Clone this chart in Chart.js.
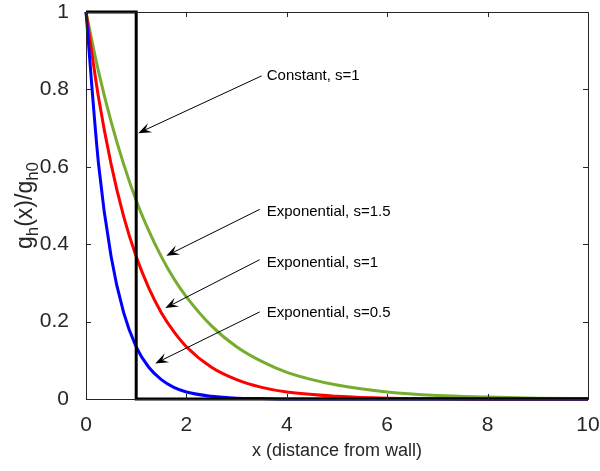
<!DOCTYPE html>
<html>
<head>
<meta charset="utf-8">
<script src="https://cdn.jsdelivr.net/npm/chart.js@4.4.1/dist/chart.umd.min.js"></script>
<style>
  html, body { margin: 0; padding: 0; background: #fff; }
  #wrap { width: 600px; height: 471px; position: relative; }
</style>
</head>
<body>
<div id="wrap"><canvas id="chartDinding"></canvas></div>
<script>
// sample positions along x (distance from wall)
const xVals = [0, 0.25, 0.5, 0.75, 1, 1.25, 1.5, 1.75, 2, 2.5, 3, 3.5, 4, 5, 6, 7, 8, 9, 10];
// values
const expS05 = [1, 0.607, 0.368, 0.223, 0.135, 0.082, 0.05, 0.03, 0.018, 0.007, 0.002, 0.001, 0, 0, 0, 0, 0, 0, 0];
const expS1 = [1, 0.779, 0.607, 0.472, 0.368, 0.287, 0.223, 0.174, 0.135, 0.082, 0.05, 0.03, 0.018, 0.007, 0.002, 0.001, 0, 0, 0];
const expS15 = [1, 0.846, 0.717, 0.607, 0.513, 0.435, 0.368, 0.311, 0.264, 0.189, 0.135, 0.097, 0.069, 0.036, 0.018, 0.009, 0.005, 0.002, 0.001];
// constant profile (step)
const constX = [0, 1, 1, 10];
const constY = [1, 1, 0, 0];

const xTicks = [0, 2, 4, 6, 8, 10];
const yTicks = [0, 0.2, 0.4, 0.6, 0.8, 1];

// annotation arrows (data coords)
const noteText = ['Constant, s=1', 'Exponential, s=1.5', 'Exponential, s=1', 'Exponential, s=0.5'];
const noteTail = [[3.5, 0.835], [3.46, 0.49], [3.46, 0.36], [3.46, 0.225]];
const noteTip = [[1.04, 0.687], [1.6, 0.37], [1.58, 0.235], [1.38, 0.092]];
const noteTextPos = [[3.6, 0.836], [3.6, 0.483], [3.6, 0.352], [3.6, 0.222]];

function toPts(xs, ys) {
    return xs.map((x, i) => ({ x: x, y: ys[i] }));
}

const boxPlugin = {
    id: 'boxPlugin',
    afterDatasetsDraw(chart) {
        const ctx = chart.ctx;
        const a = chart.chartArea;
        const xs = chart.scales.x, ys = chart.scales.y;
        ctx.save();
        ctx.strokeStyle = '#262626';
        ctx.lineWidth = 1;
        ctx.strokeRect(a.left + 0.5, a.top + 0.5, a.right - a.left, a.bottom - a.top);
        ctx.beginPath();
        xTicks.forEach(v => {
            const px = Math.round(xs.getPixelForValue(v)) + 0.5;
            ctx.moveTo(px, a.bottom); ctx.lineTo(px, a.bottom - 5);
            ctx.moveTo(px, a.top); ctx.lineTo(px, a.top + 5);
        });
        yTicks.forEach(v => {
            const py = Math.round(ys.getPixelForValue(v)) + 0.5;
            ctx.moveTo(a.left, py); ctx.lineTo(a.left + 5, py);
            ctx.moveTo(a.right, py); ctx.lineTo(a.right - 5, py);
        });
        ctx.stroke();

        // arrows + notes
        ctx.fillStyle = '#000';
        ctx.strokeStyle = '#000';
        ctx.font = '15px "Liberation Sans", Arial, sans-serif';
        ctx.textBaseline = 'middle';
        noteText.forEach((t, i) => {
            const x0 = xs.getPixelForValue(noteTail[i][0]), y0 = ys.getPixelForValue(noteTail[i][1]);
            const x1 = xs.getPixelForValue(noteTip[i][0]), y1 = ys.getPixelForValue(noteTip[i][1]);
            const ang = Math.atan2(y1 - y0, x1 - x0);
            ctx.beginPath();
            ctx.lineWidth = 1;
            ctx.moveTo(x0, y0);
            ctx.lineTo(x1 - 8 * Math.cos(ang), y1 - 8 * Math.sin(ang));
            ctx.stroke();
            // arrow head
            const L = 13, W = 5;
            const bx = x1 - L * Math.cos(ang), by = y1 - L * Math.sin(ang);
            const cx = x1 - 0.6 * L * Math.cos(ang), cy = y1 - 0.6 * L * Math.sin(ang);
            ctx.beginPath();
            ctx.moveTo(x1, y1);
            ctx.lineTo(bx + W * Math.sin(ang), by - W * Math.cos(ang));
            ctx.lineTo(cx, cy);
            ctx.lineTo(bx - W * Math.sin(ang), by + W * Math.cos(ang));
            ctx.closePath();
            ctx.fill();
            ctx.fillText(t, xs.getPixelForValue(noteTextPos[i][0]), ys.getPixelForValue(noteTextPos[i][1]));
        });

        // y axis title with subscripts
        ctx.save();
        ctx.translate(26, (a.top + a.bottom) / 2);
        ctx.rotate(-Math.PI / 2);
        ctx.fillStyle = '#262626';
        ctx.textBaseline = 'alphabetic';
        const parts = [['g', 0], ['h', 1], ['(x)/g', 0], ['h0', 1]];
        const big = '23px "Liberation Sans", Arial, sans-serif';
        const small = '17px "Liberation Sans", Arial, sans-serif';
        let w = 0;
        parts.forEach(p => { ctx.font = p[1] ? small : big; w += ctx.measureText(p[0]).width; });
        let px = -w / 2;
        parts.forEach(p => {
            ctx.font = p[1] ? small : big;
            ctx.fillText(p[0], px, p[1] ? 12 : 6);
            px += ctx.measureText(p[0]).width;
        });
        ctx.restore();
        ctx.restore();
    }
};

function createChart() {
    const ctx = document.getElementById('chartDinding').getContext('2d');
    const lineBase = { showLine: true, pointRadius: 0, borderWidth: 3, fill: false };
    new Chart(ctx, {
        type: 'scatter',
        data: {
            datasets: [
                Object.assign({ label: 'Constant, s=1', data: toPts(constX, constY), borderColor: '#000000', tension: 0 }, lineBase),
                Object.assign({ label: 'Exponential, s=0.5', data: toPts(xVals, expS05), borderColor: '#0000ff', cubicInterpolationMode: 'monotone' }, lineBase),
                Object.assign({ label: 'Exponential, s=1', data: toPts(xVals, expS1), borderColor: '#ff0000', cubicInterpolationMode: 'monotone' }, lineBase),
                Object.assign({ label: 'Exponential, s=1.5', data: toPts(xVals, expS15), borderColor: '#77ac30', cubicInterpolationMode: 'monotone' }, lineBase)
            ]
        },
        options: {
            responsive: true,
            maintainAspectRatio: false,
            animation: false,
            clip: false,
            layout: { padding: { left: 0, right: 12, top: 12, bottom: 0 } },
            plugins: { legend: { display: false }, tooltip: { enabled: false } },
            scales: {
                x: {
                    type: 'linear', min: 0, max: 10,
                    grid: { display: false }, border: { display: false },
                    afterBuildTicks: s => { s.ticks = xTicks.map(v => ({ value: v })); },
                    ticks: { color: '#262626', font: { family: '"Liberation Sans", Arial', size: 21 }, padding: 6, maxRotation: 0 },
                    title: { display: true, text: 'x (distance from wall)', color: '#262626', font: { family: '"Liberation Sans", Arial', size: 18 }, padding: { top: 0, bottom: 9 } },
                    afterFit: s => { s.height = 72; s.paddingLeft = 0; s.paddingRight = 0; }
                },
                y: {
                    type: 'linear', min: 0, max: 1,
                    grid: { display: false }, border: { display: false },
                    afterBuildTicks: s => { s.ticks = yTicks.map(v => ({ value: v })); },
                    ticks: { color: '#262626', font: { family: '"Liberation Sans", Arial', size: 21 }, padding: 9, callback: v => String(v) },
                    afterFit: s => { s.width = 86; s.paddingTop = 0; s.paddingBottom = 0; }
                }
            }
        },
        plugins: [boxPlugin]
    });
}

document.addEventListener('DOMContentLoaded', createChart);
</script>
</body>
</html>
